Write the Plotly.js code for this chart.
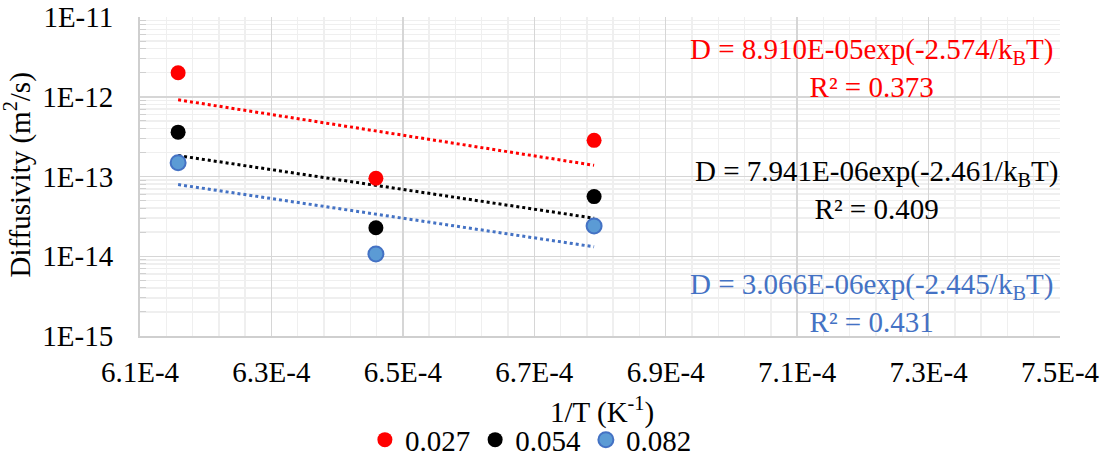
<!DOCTYPE html>
<html>
<head>
<meta charset="utf-8">
<script src="https://cdn.plot.ly/plotly-3.0.1.min.js"></script>
<style>
  html, body { margin: 0; padding: 0; background: #fff; }
  #chart { width: 1106px; height: 461px; }
</style>
</head>
<body>
<div id="chart"></div>
<script>
// Inverse temperature (1/K) and measured diffusivities (m²/s)
const invT = [6.158e-4, 6.459e-4, 6.791e-4];
const series = ['0.027', '0.054', '0.082'];
const d027 = [2.0e-12, 9.5e-14, 2.84e-13];
const d054 = [3.6e-13, 2.28e-14, 5.6e-14];
const d082 = [1.49e-13, 1.07e-14, 2.4e-14];

// Arrhenius fits: D = D0 * exp(-Ea / (kB T))
const fitD0 = [8.910e-05, 7.941e-06, 3.066e-06];
const fitEa = [2.574, 2.461, 2.445];
const fitR2 = ['0.373', '0.409', '0.431'];
const kB = 8.617333e-5; // eV/K

const xTicks = ['6.1E-4', '6.3E-4', '6.5E-4', '6.7E-4', '6.9E-4', '7.1E-4', '7.3E-4', '7.5E-4'];
const yTicks = ['1E-15', '1E-14', '1E-13', '1E-12', '1E-11'];
const xTitle = '1/T (K<sup>-1</sup>)';
const yTitle = 'Diffusivity (m<sup>2</sup>/s)';

const fillColors = ['#FF0000', '#000000', '#5B9BD5'];
const edgeColors = ['#FF0000', '#000000', '#4472C4'];
const fitColors = ['#FF0000', '#000000', '#4472C4'];
const values = [d027, d054, d082];

const FONT = 'Liberation Serif';
const FS = 29;
const traces = [];

// Dotted fit lines over the measured range
values.forEach((v, i) => {
  const xs = [invT[0], invT[invT.length - 1]];
  traces.push({
    x: xs,
    y: xs.map(x => fitD0[i] * Math.exp(-fitEa[i] * x / kB)),
    mode: 'lines',
    line: { color: fitColors[i], width: 3, dash: 'dot' },
    showlegend: false,
    hoverinfo: 'skip'
  });
});

// Data points
values.forEach((v, i) => {
  traces.push({
    x: invT,
    y: v,
    name: series[i],
    mode: 'markers',
    marker: { size: 15, color: fillColors[i], line: { color: edgeColors[i], width: i === 2 ? 2 : 0 } },
  });
});

// Tick positions
const xTickVals = xTicks.map(t => parseFloat(t.replace('E', 'e')));
const yTickVals = yTicks.map(t => parseFloat(t.replace('E', 'e')));
const yMinor = [];
for (let e = -15; e < -11; e++) {
  for (let m = 2; m <= 9; m++) yMinor.push(m * Math.pow(10, e));
}

const txtFont = (c) => ({ family: FONT, size: FS, color: c });
const fitLabel = (i) => 'D = ' + fitD0[i].toExponential(3).toUpperCase().replace('E-', 'E-0') +
  'exp(-' + fitEa[i].toFixed(3) + '/k<sub>B</sub>T)<br>R² = ' + fitR2[i];

const ann = (i, x, y) => ({
  xref: 'paper', yref: 'paper', x: x, y: y, xanchor: 'center', yanchor: 'middle',
  text: fitLabel(i), showarrow: false, align: 'center', font: txtFont(fitColors[i])
});

// Axis titles placed as free text around the plot area
const axisTitles = [
  { xref: 'paper', yref: 'paper', x: 0.502, y: -0.232, xanchor: 'center', yanchor: 'middle',
    text: xTitle, showarrow: false, font: txtFont('#000') },
  { xref: 'paper', yref: 'paper', x: -0.1326, y: 0.503, xanchor: 'center', yanchor: 'middle',
    textangle: -90, text: yTitle, showarrow: false, font: txtFont('#000') }
];

const layout = {
  width: 1106,
  height: 461,
  margin: { l: 140, r: 46, t: 17, b: 125, autoexpand: false },
  paper_bgcolor: '#ffffff',
  plot_bgcolor: '#ffffff',
  font: { family: FONT, size: FS, color: '#000' },
  showlegend: true,
  legend: {
    orientation: 'h',
    xref: 'container', yref: 'container',
    x: 0.48, xanchor: 'center',
    y: 0.046, yanchor: 'middle',
    font: { family: FONT, size: FS, color: '#000' },
    itemwidth: 30,
    traceorder: 'normal'
  },
  xaxis: {
    range: [6.1e-4, 7.5e-4],
    tickmode: 'array',
    tickvals: xTickVals,
    ticktext: xTicks,
    automargin: false,
    showgrid: true,
    gridcolor: '#d6d6d6',
    gridwidth: 1.5,
    showline: true,
    linecolor: '#cfcfcf',
    linewidth: 2,
    ticks: '',
    ticklabelstandoff: 9,
    zeroline: false,
    tickfont: { family: FONT, size: FS, color: '#000' },
    minor: { tickmode: 'linear', tick0: 6.1e-4, dtick: 4e-6, showgrid: true, gridcolor: '#efefef', gridwidth: 1.5 }
  },
  yaxis: {
    type: 'log',
    range: [-15, -11],
    tickmode: 'array',
    tickvals: yTickVals,
    ticktext: yTicks,
    automargin: false,
    showgrid: true,
    gridcolor: '#d6d6d6',
    gridwidth: 1.5,
    showline: true,
    linecolor: '#cfcfcf',
    linewidth: 2,
    ticks: '',
    ticklabelstandoff: 19,
    zeroline: false,
    tickfont: { family: FONT, size: FS, color: '#000' },
    minor: { tickmode: 'array', tickvals: yMinor, showgrid: true, gridcolor: '#efefef', gridwidth: 1.5, ticks: 'inside', ticklen: 6, tickcolor: '#d0d0d0' }
  },
  annotations: [ann(0, 0.795, 0.84), ann(1, 0.80, 0.457), ann(2, 0.795, 0.105)].concat(axisTitles)
};

Plotly.newPlot('chart', traces, layout, { displayModeBar: false, staticPlot: true });
</script>
</body>
</html>
